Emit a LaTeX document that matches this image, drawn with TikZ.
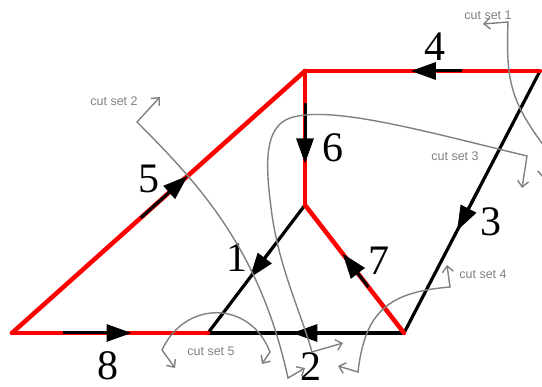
\documentclass[tikz,border=0pt]{standalone}
\usepackage{fontspec}
\setmainfont{Liberation Serif}
\newfontfamily\cutfont{Liberation Sans}
\usetikzlibrary{arrows.meta,calc}

\begin{document}
\begin{tikzpicture}[x=1pt,y=-1pt,
  >={Straight Barb[length=6pt,width=11pt]},
  redline/.style={red, line width=4.5pt, line cap=round},
  blackline/.style={black, line width=3.2pt, line cap=round},
  dirarrow/.style={black, line width=3pt, -{Triangle[length=25pt,width=17pt]}},
  edgelabel/.style={font=\fontsize{42}{42}\selectfont, inner sep=0pt, text height=28pt, text depth=0pt},
  cutline/.style={gray, line width=1.4pt},
  cutlabel/.style={gray, font=\cutfont\fontsize{12.5}{13}\selectfont, inner sep=0pt}]

\useasboundingbox (0,0) rectangle (542,387);

% Define vertices
\coordinate (A) at (12,333);
\coordinate (B) at (208,333);
\coordinate (C) at (404,333);
\coordinate (D) at (305,71);
\coordinate (E) at (540,71);
\coordinate (F) at (305,205);

% Draw black edges
\draw[blackline] (F) -- (B);
\draw[blackline] (C) -- (B);
\draw[blackline] (E) -- (C);

% Draw red edges
\draw[redline] (A) -- (B);
\draw[redline] (A) -- (D);
\draw[redline] (E) -- (D);
\draw[redline] (D) -- (F);
\draw[redline] (C) -- (F);

% Direction arrows on the edges
\draw[dirarrow] ($(A)!0.26!(B)$) -- ($(A)!0.61!(B)$);
\draw[dirarrow] ($(A)!0.44!(D)$) -- ($(A)!0.60!(D)$);
\draw[dirarrow] ($(E)!0.33!(D)$) -- ($(E)!0.55!(D)$);
\draw[dirarrow] ($(D)!0.24!(F)$) -- ($(D)!0.69!(F)$);
\draw[dirarrow] ($(C)!0.36!(F)$) -- ($(C)!0.62!(F)$);
\draw[dirarrow] ($(C)!0.40!(B)$) -- ($(C)!0.57!(B)$);
\draw[dirarrow] ($(F)!0.35!(B)$) -- ($(F)!0.57!(B)$);
\draw[dirarrow] ($(E)!0.45!(C)$) -- ($(E)!0.61!(C)$);

% Edge numbers
\node[edgelabel] (n1) at (237,258) {1};
\node[edgelabel] (n2) at (311,367) {2};
\node[edgelabel] (n3) at (491,222) {3};
\node[edgelabel] (n4) at (435,47) {4};
\node[edgelabel] (n5) at (149,179) {5};
\node[edgelabel] (n6) at (333,148) {6};
\node[edgelabel] (n7) at (379,261) {7};
\node[edgelabel] (n8) at (108,366) {8};

% Cut sets
\draw[cutline, <->] (483,24) -- (508,22) .. controls (506,80) and (510,100) .. (544,146) -- (543,178);
\node[cutlabel] (cut1) at (488,15) {cut set 1};

\draw[cutline, <->] (160,97) -- (137,122) .. controls (200,185) and (260,250) .. (288,378) -- (305,368);
\node[cutlabel] (cut2) at (114,101) {cut set 2};

\draw[cutline, <->] (522,188) -- (527,156) .. controls (420,130) and (330,105) .. (290,118)
  .. controls (262,128) and (266,170) .. (272,215) .. controls (280,270) and (300,310) .. (312,352) -- (343,343);
\node[cutlabel] (cut3) at (455,156) {cut set 3};

\draw[cutline, <->] (447,265) -- (450,287) .. controls (390,292) and (365,310) .. (358,372) -- (338,366);
\node[cutlabel] (cut4) at (483,274) {cut set 4};

\draw[cutline, <->] (175,368) -- (162,350) .. controls (185,300) and (250,300) .. (270,352) -- (262,364);
\node[cutlabel] (cut5) at (211,351) {cut set 5};

\end{tikzpicture}
\end{document}
